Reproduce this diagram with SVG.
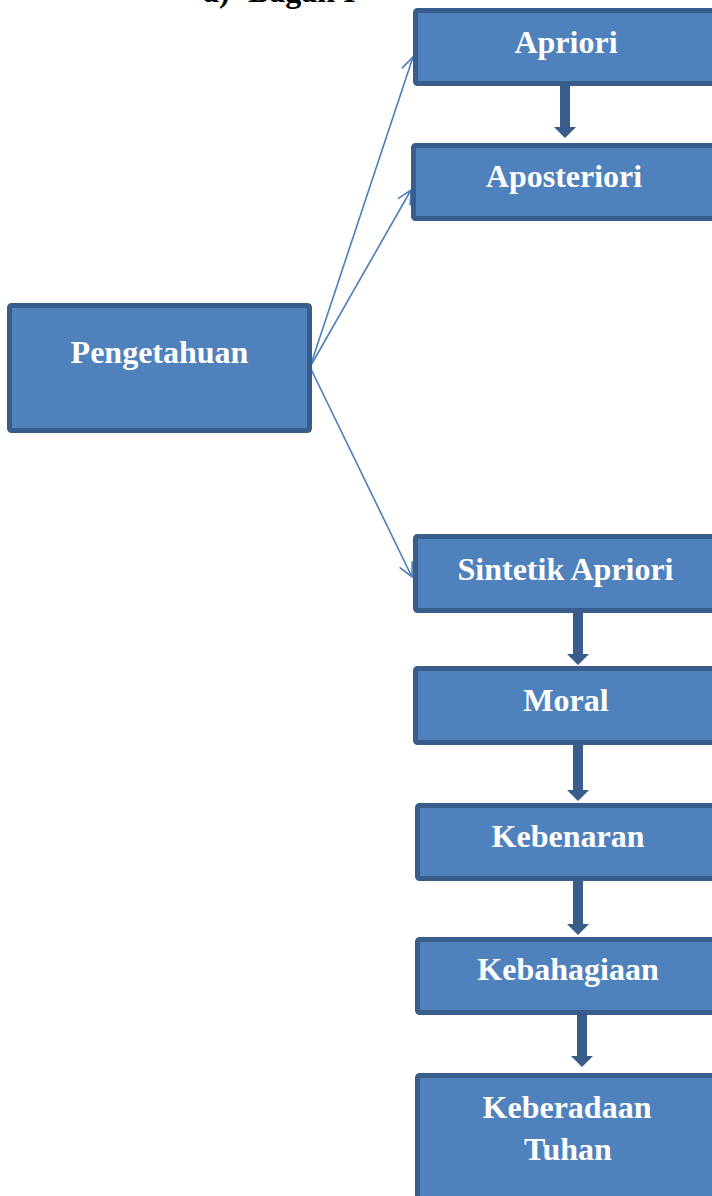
<svg xmlns="http://www.w3.org/2000/svg" width="712" height="1196" viewBox="0 0 712 1196">
<style>
.box{fill:#4F81BD;stroke:#385D8A;stroke-width:5}
.lbl{font-family:"Liberation Serif","Times New Roman",serif;font-weight:bold;font-size:32px;fill:#FFFFFF;text-anchor:middle}
.hdr{font-family:"Liberation Serif","Times New Roman",serif;font-weight:bold;font-size:32px;fill:#000000}
.thin{stroke:#4A7EBB;stroke-width:1.6;fill:none}
.thick{fill:#385D8A}
</style>
<defs>
<marker id="open" viewBox="0 0 16 16" refX="15" refY="8" markerWidth="16" markerHeight="16" markerUnits="userSpaceOnUse" orient="auto">
<path d="M1,1 L15,8 L1,15" fill="none" stroke="#4A7EBB" stroke-width="1.6"/>
</marker>
</defs>
<text class="hdr" x="203" y="2">a)</text>
<text class="hdr" x="248" y="2">Bagan I</text>
<g id="connectors">
<path class="thin" d="M310,367 L413,57" marker-end="url(#open)"/>
<path class="thin" d="M310,367 L411,190" marker-end="url(#open)"/>
<path class="thin" d="M310,367 L412,577" marker-end="url(#open)"/>
<path class="thick" d="M560,82 H570 V127 H576 L565,138 L554,127 H560 Z"/>
<path class="thick" d="M573,608 H583 V654 H589 L578,665 L567,654 H573 Z"/>
<path class="thick" d="M573,743 H583 V790 H589 L578,801 L567,790 H573 Z"/>
<path class="thick" d="M573,879 H583 V924 H589 L578,935 L567,924 H573 Z"/>
<path class="thick" d="M577,1010 H587 V1056 H593 L582,1067 L571,1056 H577 Z"/>
</g>
<g id="apriori"><rect class="box" x="415.5" y="10.5" width="310" height="73" rx="2"/><text class="lbl" x="566" y="53">Apriori</text></g>
<g id="aposteriori"><rect class="box" x="413.5" y="145.5" width="310" height="73" rx="2"/><text class="lbl" x="564" y="187">Aposteriori</text></g>
<g id="pengetahuan"><rect class="box" x="9.5" y="305.5" width="300" height="125" rx="2"/><text class="lbl" x="159.5" y="363">Pengetahuan</text></g>
<g id="sintetik"><rect class="box" x="415.5" y="536.5" width="310" height="74" rx="2"/><text class="lbl" x="565.5" y="580">Sintetik Apriori</text></g>
<g id="moral"><rect class="box" x="415.5" y="668.5" width="310" height="74" rx="2"/><text class="lbl" x="566" y="711">Moral</text></g>
<g id="kebenaran"><rect class="box" x="417.5" y="805.5" width="310" height="73" rx="2"/><text class="lbl" x="568" y="847">Kebenaran</text></g>
<g id="kebahagiaan"><rect class="box" x="417.5" y="939.5" width="310" height="73" rx="2"/><text class="lbl" x="568" y="980">Kebahagiaan</text></g>
<g id="keberadaan"><rect class="box" x="417.5" y="1075.5" width="310" height="140" rx="2"/><text class="lbl" x="567" y="1118">Keberadaan</text><text class="lbl" x="568" y="1160">Tuhan</text></g>
</svg>
